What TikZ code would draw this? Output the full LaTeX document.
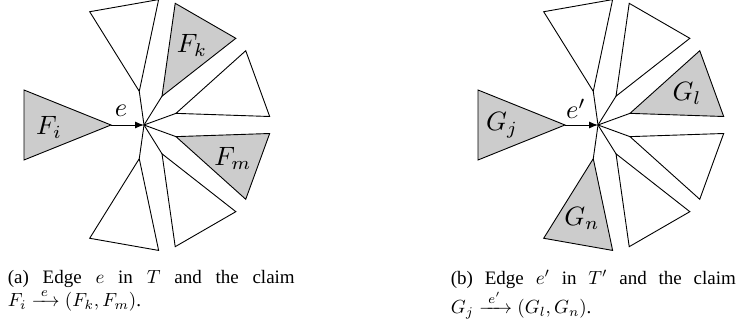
\documentclass[tikz,border=0pt]{standalone}
\usepackage{amsmath}
\usepackage{fontspec}
\setmainfont{Liberation Serif}
\usetikzlibrary{arrows.meta}

\begin{document}
\begin{tikzpicture}[
    x=1pt, y=1pt,
    line width=0.9pt,
    >={Latex[length=9pt,width=7pt]},
    sub/.style={
        draw,
        fill=white
    },
    hit/.style={
        sub,
        fill=gray!40
    },
    lab/.style={
        scale=2.65,
        inner sep=0.5pt
    },
    captxt/.style={
        font=\fontsize{10}{12.6}\selectfont,
        scale=1.9,
        text width=151pt,
        align=justify,
        inner sep=0pt,
        anchor=north west
    }
]
\useasboundingbox (0,0) rectangle (746,332);

% (a) edge e in T
\coordinate (ca) at (144,207);
\coordinate (ra) at (111,207);
\draw[hit, shift={(ra)}, rotate=180] (0,0) -- (87,35) -- (87,-35) -- cycle;
\draw[->] (ra) -- (ca);
\foreach \ang/\dir/\col [count=\i] in {98/100/sub, 58/60/hit, 20/20/sub, -20/-20/hit, -58/-60/sub, -98/-100/sub}{
    \coordinate (a\i) at ([shift={(\ang:34)}]ca);
    \draw (ca) -- (a\i);
    \draw[\col, shift={(a\i)}, rotate=\dir] (0,0) -- (87,35) -- (87,-35) -- cycle;
}
\node[lab] (ea) at (121,221) {$e$};
\node[lab] (fi) at (49,205) {$F_i$};
\node[lab] (fk) at (192,287) {$F_k$};
\node[lab] (fm) at (233,174) {$F_m$};

% (b) edge e' in T'
\coordinate (cb) at (598,207);
\coordinate (rb) at (565,207);
\draw[hit, shift={(rb)}, rotate=180] (0,0) -- (87,35) -- (87,-35) -- cycle;
\draw[->] (rb) -- (cb);
\foreach \ang/\dir/\col [count=\i] in {98/100/sub, 58/60/sub, 20/20/hit, -20/-20/sub, -58/-60/sub, -98/-100/hit}{
    \coordinate (b\i) at ([shift={(\ang:34)}]cb);
    \draw (cb) -- (b\i);
    \draw[\col, shift={(b\i)}, rotate=\dir] (0,0) -- (87,35) -- (87,-35) -- cycle;
}
\node[lab] (eb) at (576,223) {$e'$};
\node[lab] (gj) at (502,207) {$G_j$};
\node[lab] (gl) at (687,239) {$G_l$};
\node[lab] (gn) at (582,114) {$G_n$};

% captions
\node[captxt] (capa) at (7,63) {(a) Edge $e$ in $T$ and the claim\linebreak
    $F_i \xrightarrow{\;e\;} (F_k,F_m)$.};
\node[captxt, text width=150pt] (capb) at (450,63) {(b) Edge $e'$ in $T'$ and the claim\linebreak
    $G_j \xrightarrow{\;e'\;} (G_l,G_n)$.};

\end{tikzpicture}
\end{document}
